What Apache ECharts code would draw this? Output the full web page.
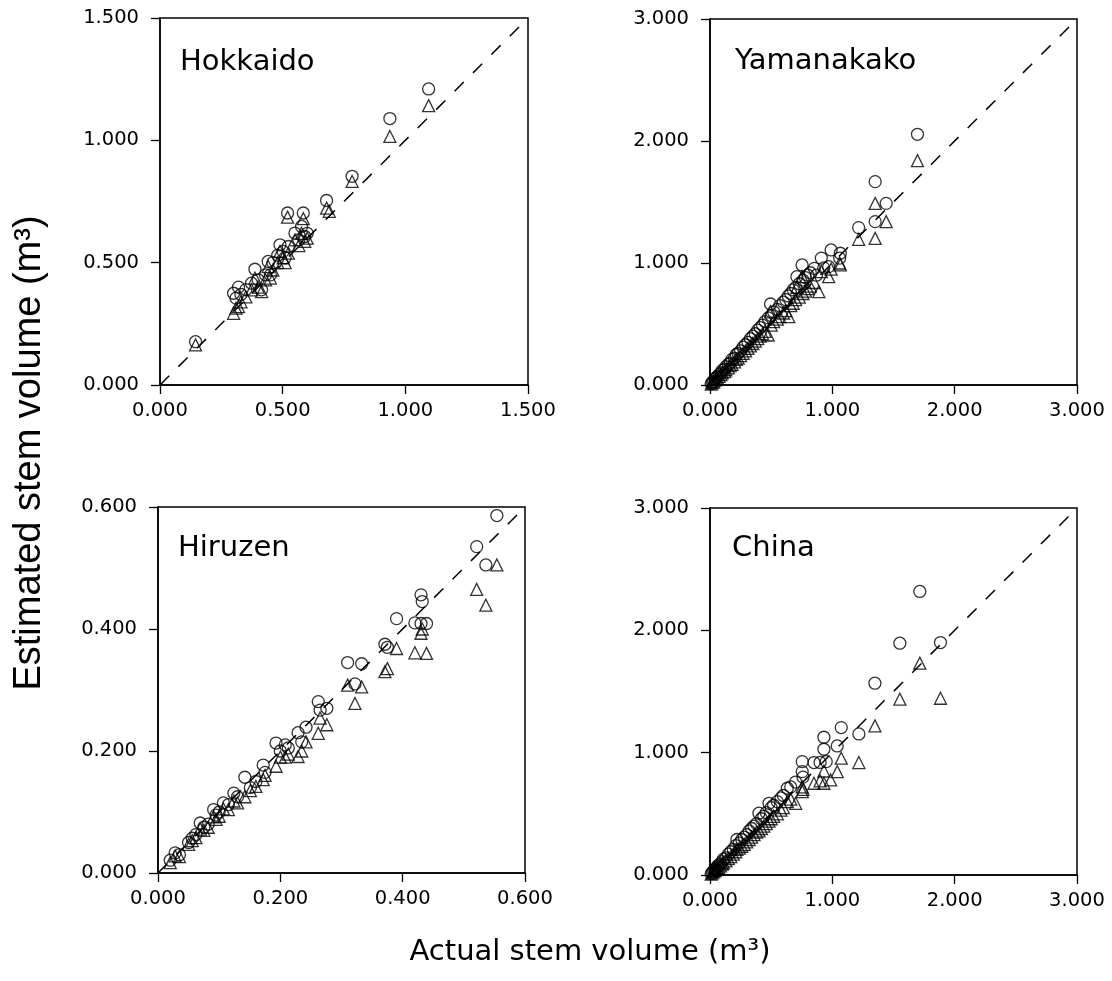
<!DOCTYPE html>
<html><head><meta charset="utf-8">
<script src="https://cdn.jsdelivr.net/npm/echarts@6/dist/echarts.min.js"></script>
<style>html,body{margin:0;padding:0;background:#fff}#c{width:1112px;height:981px}</style>
</head><body><div id="c"></div>
<script>
const panelNames = ['Hokkaido', 'Yamanakako', 'Hiruzen', 'China'];
const axisMax = [1.5, 3, 0.6, 3];
const axisStep = [0.5, 1, 0.2, 1];
const xTitle = 'Actual stem volume (m³)';
const yTitle = 'Estimated stem volume (m³)';

// [actual, estimated] — circles
const hokCircle = [[0.145,0.177],[0.30,0.375],[0.31,0.355],[0.32,0.40],[0.33,0.37],[0.35,0.39],[0.373,0.416],[0.387,0.473],[0.40,0.43],[0.414,0.389],[0.43,0.45],[0.441,0.505],[0.45,0.45],[0.46,0.50],[0.48,0.53],[0.489,0.573],[0.502,0.546],[0.51,0.52],[0.523,0.566],[0.52,0.703],[0.55,0.621],[0.566,0.593],[0.577,0.648],[0.584,0.703],[0.59,0.607],[0.60,0.62],[0.679,0.754],[0.783,0.853],[0.937,1.089],[1.095,1.21]];
const hokTriangle = [[0.145,0.164],[0.30,0.293],[0.31,0.314],[0.32,0.32],[0.33,0.34],[0.35,0.36],[0.373,0.389],[0.387,0.437],[0.40,0.40],[0.414,0.382],[0.43,0.43],[0.441,0.484],[0.45,0.437],[0.46,0.47],[0.48,0.50],[0.489,0.546],[0.502,0.52],[0.51,0.50],[0.523,0.539],[0.52,0.686],[0.55,0.593],[0.566,0.57],[0.577,0.62],[0.584,0.68],[0.59,0.587],[0.60,0.60],[0.679,0.723],[0.69,0.71],[0.783,0.832],[0.937,1.016],[1.095,1.142]];

const yamCircle = [[0.01,0.01],[0.02,0.025],[0.03,0.03],[0.04,0.05],[0.05,0.06],[0.06,0.07],[0.075,0.085],[0.09,0.10],[0.10,0.12],[0.12,0.13],[0.13,0.15],[0.15,0.17],[0.165,0.18],[0.18,0.21],[0.20,0.22],[0.215,0.25],[0.23,0.26],[0.25,0.28],[0.27,0.31],[0.29,0.33],[0.31,0.35],[0.33,0.38],[0.35,0.40],[0.37,0.42],[0.39,0.45],[0.41,0.47],[0.43,0.49],[0.45,0.52],[0.476,0.55],[0.495,0.664],[0.50,0.57],[0.52,0.60],[0.55,0.62],[0.57,0.65],[0.60,0.68],[0.62,0.70],[0.64,0.73],[0.66,0.75],[0.68,0.78],[0.71,0.888],[0.70,0.80],[0.73,0.83],[0.753,0.984],[0.76,0.86],[0.78,0.88],[0.80,0.90],[0.82,0.92],[0.853,0.956],[0.87,0.90],[0.91,1.04],[0.93,0.96],[0.97,0.97],[0.99,1.107],[1.065,1.08],[1.06,1.04],[1.215,1.29],[1.35,1.667],[1.35,1.339],[1.44,1.489],[1.696,2.055]];
const yamTriangle = [[0.01,0.008],[0.02,0.02],[0.03,0.026],[0.04,0.04],[0.05,0.048],[0.06,0.057],[0.075,0.07],[0.09,0.085],[0.10,0.10],[0.12,0.11],[0.13,0.125],[0.15,0.14],[0.165,0.16],[0.18,0.17],[0.20,0.19],[0.215,0.21],[0.23,0.22],[0.25,0.24],[0.27,0.26],[0.29,0.28],[0.31,0.30],[0.33,0.32],[0.35,0.34],[0.37,0.36],[0.39,0.38],[0.41,0.40],[0.43,0.42],[0.45,0.44],[0.476,0.41],[0.495,0.60],[0.50,0.49],[0.52,0.52],[0.55,0.54],[0.57,0.56],[0.60,0.59],[0.62,0.61],[0.644,0.56],[0.66,0.65],[0.68,0.67],[0.70,0.70],[0.71,0.80],[0.73,0.72],[0.753,0.888],[0.76,0.75],[0.78,0.77],[0.80,0.79],[0.82,0.81],[0.853,0.84],[0.89,0.765],[0.91,0.93],[0.97,0.888],[0.99,0.95],[1.065,0.984],[1.06,1.00],[1.215,1.194],[1.35,1.489],[1.35,1.202],[1.44,1.339],[1.696,1.839]];

const hirCircle = [[0.02,0.021],[0.028,0.033],[0.035,0.03],[0.05,0.05],[0.056,0.057],[0.062,0.063],[0.069,0.082],[0.075,0.075],[0.082,0.08],[0.091,0.104],[0.095,0.095],[0.10,0.10],[0.107,0.115],[0.115,0.112],[0.124,0.131],[0.13,0.125],[0.142,0.157],[0.151,0.14],[0.16,0.15],[0.172,0.177],[0.175,0.165],[0.193,0.213],[0.20,0.20],[0.208,0.21],[0.213,0.205],[0.229,0.23],[0.235,0.215],[0.242,0.239],[0.262,0.281],[0.265,0.267],[0.276,0.27],[0.31,0.345],[0.322,0.31],[0.333,0.343],[0.371,0.375],[0.375,0.37],[0.39,0.417],[0.42,0.41],[0.43,0.456],[0.432,0.445],[0.43,0.409],[0.439,0.409],[0.521,0.535],[0.536,0.505],[0.554,0.586]];
const hirTriangle = [[0.02,0.017],[0.028,0.028],[0.035,0.027],[0.05,0.047],[0.056,0.053],[0.062,0.058],[0.069,0.072],[0.075,0.07],[0.082,0.075],[0.091,0.092],[0.095,0.088],[0.10,0.093],[0.107,0.105],[0.115,0.104],[0.124,0.118],[0.13,0.115],[0.142,0.125],[0.151,0.135],[0.16,0.142],[0.172,0.153],[0.175,0.16],[0.193,0.175],[0.20,0.19],[0.208,0.19],[0.213,0.195],[0.229,0.191],[0.235,0.20],[0.242,0.215],[0.262,0.229],[0.265,0.254],[0.276,0.243],[0.31,0.308],[0.322,0.278],[0.333,0.305],[0.371,0.33],[0.375,0.335],[0.39,0.368],[0.42,0.361],[0.43,0.393],[0.432,0.40],[0.439,0.36],[0.521,0.465],[0.536,0.439],[0.554,0.505]];

const chnCircle = [[0.01,0.01],[0.02,0.02],[0.03,0.035],[0.04,0.045],[0.05,0.055],[0.06,0.07],[0.07,0.08],[0.085,0.09],[0.10,0.11],[0.11,0.13],[0.13,0.14],[0.15,0.17],[0.17,0.19],[0.19,0.21],[0.21,0.24],[0.22,0.29],[0.24,0.26],[0.26,0.29],[0.28,0.31],[0.30,0.33],[0.32,0.36],[0.34,0.38],[0.36,0.40],[0.38,0.42],[0.40,0.505],[0.42,0.46],[0.44,0.48],[0.46,0.51],[0.482,0.586],[0.50,0.55],[0.52,0.57],[0.55,0.60],[0.58,0.63],[0.60,0.65],[0.632,0.709],[0.66,0.72],[0.70,0.76],[0.754,0.927],[0.754,0.845],[0.76,0.80],[0.85,0.919],[0.90,0.92],[0.931,1.126],[0.931,1.028],[0.95,0.927],[1.04,1.055],[1.073,1.205],[1.217,1.153],[1.348,1.568],[1.552,1.895],[1.715,2.318],[1.884,1.90]];
const chnTriangle = [[0.01,0.008],[0.02,0.018],[0.03,0.028],[0.04,0.036],[0.05,0.045],[0.06,0.055],[0.07,0.062],[0.085,0.075],[0.10,0.09],[0.11,0.10],[0.13,0.115],[0.15,0.135],[0.17,0.15],[0.19,0.17],[0.21,0.19],[0.22,0.21],[0.24,0.22],[0.26,0.235],[0.28,0.25],[0.30,0.27],[0.32,0.29],[0.34,0.31],[0.36,0.33],[0.38,0.35],[0.40,0.36],[0.42,0.38],[0.44,0.40],[0.46,0.42],[0.482,0.44],[0.50,0.46],[0.52,0.48],[0.55,0.50],[0.58,0.53],[0.60,0.55],[0.632,0.60],[0.66,0.62],[0.70,0.586],[0.754,0.682],[0.754,0.72],[0.76,0.70],[0.85,0.75],[0.90,0.77],[0.931,0.75],[0.931,0.85],[0.986,0.777],[1.04,0.845],[1.073,0.955],[1.217,0.919],[1.348,1.219],[1.552,1.437],[1.715,1.732],[1.884,1.445]];

const circles = [hokCircle, yamCircle, hirCircle, chnCircle];
const triangles = [hokTriangle, yamTriangle, hirTriangle, chnTriangle];

const grids = [
  {left: 160, top: 18, width: 368, height: 367},
  {left: 710, top: 19, width: 367, height: 366},
  {left: 158, top: 507, width: 367, height: 366},
  {left: 710, top: 508, width: 367, height: 367}
];
const labelPos = [[180, 65], [735, 64], [178, 551], [732, 551]];

const tickFont = {fontFamily: 'DejaVu Sans', fontSize: 19.5, color: '#000'};
function axis(i, dim) {
  return {
    type: 'value', gridIndex: i, min: 0, max: axisMax[i], interval: axisStep[i],
    axisLine: {show: true, onZero: false, lineStyle: {color: '#000', width: 1.5}},
    axisTick: {show: true, inside: false, length: 9, lineStyle: {color: '#000', width: 1.3}},
    axisLabel: Object.assign({margin: dim === 'x' ? 16 : 21, formatter: v => v.toFixed(3)}, tickFont),
    splitLine: {show: false}
  };
}

const series = [];
for (let i = 0; i < 4; i++) {
  series.push({
    type: 'line', xAxisIndex: i, yAxisIndex: i, symbol: 'none', silent: true, z: 1,
    data: [[0, 0], [axisMax[i], axisMax[i]]],
    lineStyle: {color: '#000', width: 1.5, type: [13, 13]}
  });
  series.push({
    type: 'scatter', xAxisIndex: i, yAxisIndex: i, symbol: 'circle', symbolSize: 12, z: 3,
    data: circles[i],
    itemStyle: {color: 'rgba(255,255,255,0)', borderColor: '#000', borderWidth: 1.3}
  });
  series.push({
    type: 'scatter', xAxisIndex: i, yAxisIndex: i, symbol: 'triangle', symbolSize: 12, z: 3,
    data: triangles[i],
    itemStyle: {color: 'rgba(255,255,255,0)', borderColor: '#000', borderWidth: 1.3}
  });
}

const graphic = panelNames.map((n, i) => ({
  type: 'text', left: labelPos[i][0], top: labelPos[i][1] - 17,
  style: {text: n, fontFamily: 'DejaVu Sans', fontSize: 29, fill: '#000'}
}));
graphic.push({
  type: 'text', x: 590, y: 952, style: {text: xTitle, fontFamily: 'DejaVu Sans', fontSize: 29, fill: '#000', align: 'center', verticalAlign: 'middle'}
});
graphic.push({
  type: 'text', x: 30, y: 453, rotation: Math.PI / 2,
  style: {text: yTitle, fontFamily: 'Liberation Sans', fontSize: 38, fill: '#000', align: 'center', verticalAlign: 'middle'}
});

const chart = echarts.init(document.getElementById('c'));
chart.setOption({
  animation: false,
  backgroundColor: '#fff',
  grid: grids.map(g => Object.assign({show: true, borderColor: '#000', borderWidth: 1.5, backgroundColor: 'transparent'}, g)),
  xAxis: [0, 1, 2, 3].map(i => axis(i, 'x')),
  yAxis: [0, 1, 2, 3].map(i => axis(i, 'y')),
  series: series,
  graphic: graphic
});
</script></body></html>
